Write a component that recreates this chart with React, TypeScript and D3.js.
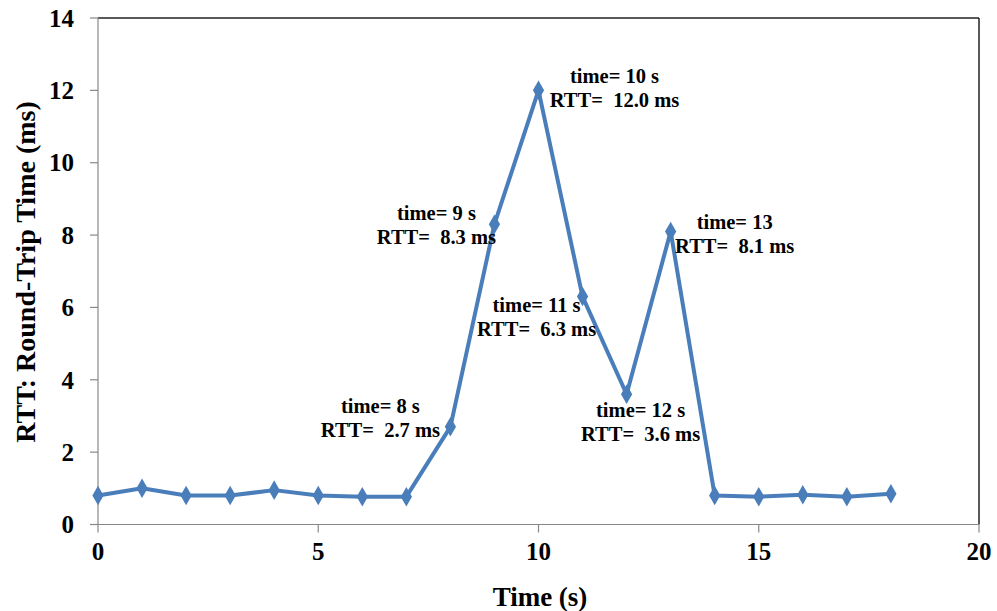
import React from "react";
import * as d3 from "d3";

// RTT samples, one per second
const times = [0, 1, 2, 3, 4, 5, 6, 7, 8, 9, 10, 11, 12, 13, 14, 15, 16, 17, 18];
const rtt = [0.8, 1.0, 0.8, 0.8, 0.95, 0.8, 0.77, 0.77, 2.7, 8.3, 12.0, 6.3, 3.6, 8.1, 0.8, 0.77, 0.82, 0.77, 0.85];

const xTicks = [0, 5, 10, 15, 20];
const yTicks = [0, 2, 4, 6, 8, 10, 12, 14];

// annotated points (index into times) and their label text
const labelIdx = [8, 9, 10, 11, 12, 13];
const labelLine1 = ["time= 8 s", "time= 9 s", "time= 10 s", "time= 11 s", "time= 12 s", "time= 13"];
const labelLine2 = ["RTT=  2.7 ms", "RTT=  8.3 ms", "RTT=  12.0 ms", "RTT=  6.3 ms", "RTT=  3.6 ms", "RTT=  8.1 ms"];
// label placement relative to the point (px)
const labelDx = [-70, -58, 76, -46, 14, 64];
const labelDy = [-14, -4, -7, 15, 23, -2];

const W = 997, H = 611;
const m = { left: 98, right: 979, top: 18, bottom: 524.5 };
const FONT = "'Liberation Serif', 'Times New Roman', serif";
const BLUE = "#4a7ebb";

export default function App() {
  const x = d3.scaleLinear().domain([0, 20]).range([m.left, m.right]);
  const y = d3.scaleLinear().domain([0, 14]).range([m.bottom, m.top]);

  const line = d3.line<number>()
    .x((d, i) => x(times[i]))
    .y(d => y(d));

  const diamond = d3.symbol().type(d3.symbolDiamond).size(110)();

  return (
    <svg width={W} height={H} style={{ position: "absolute", left: 0, top: 0, background: "#fff" }}>
      {/* frame */}
      <line x1={m.left} x2={m.right} y1={m.top} y2={m.top} stroke="#222" strokeWidth={1.5} />
      <line x1={m.right} x2={m.right} y1={m.top} y2={m.bottom} stroke="#222" strokeWidth={1.5} />
      {/* axes */}
      <line x1={m.left} x2={m.left} y1={m.top} y2={m.bottom} stroke="#888" strokeWidth={1.2} />
      <line x1={m.left} x2={m.right} y1={m.bottom} y2={m.bottom} stroke="#888" strokeWidth={1.2} />
      {yTicks.map(t => (
        <g key={"y" + t}>
          <line x1={m.left - 8} x2={m.left} y1={y(t)} y2={y(t)} stroke="#888" strokeWidth={1.2} />
          <text x={74} y={y(t)} dy="0.35em" textAnchor="end" fontFamily={FONT} fontWeight="bold" fontSize={25}>{t}</text>
        </g>
      ))}
      {xTicks.map(t => (
        <g key={"x" + t}>
          <line x1={x(t)} x2={x(t)} y1={m.bottom} y2={m.bottom + 8} stroke="#888" strokeWidth={1.2} />
          <text x={x(t)} y={560} textAnchor="middle" fontFamily={FONT} fontWeight="bold" fontSize={25}>{t}</text>
        </g>
      ))}
      <text x={540} y={606} textAnchor="middle" fontFamily={FONT} fontWeight="bold" fontSize={27}>Time (s)</text>
      <text transform="translate(35,272) rotate(-90)" textAnchor="middle" fontFamily={FONT} fontWeight="bold" fontSize={28}>RTT: Round-Trip Time (ms)</text>

      <path d={line(rtt) || ""} fill="none" stroke={BLUE} strokeWidth={4} strokeLinejoin="round" />
      {rtt.map((v, i) => (
        <path key={i} d={diamond || ""} transform={`translate(${x(times[i])},${y(v)})`} fill={BLUE} />
      ))}

      {labelIdx.map((k, j) => {
        const cx = x(times[k]) + labelDx[j];
        const cy = y(rtt[k]) + labelDy[j];
        return (
          <text key={"l" + k} textAnchor="middle" fontFamily={FONT} fontWeight="bold" fontSize={20.5} style={{ whiteSpace: "pre" }}>
            <tspan x={cx} y={cy}>{labelLine1[j]}</tspan>
            <tspan x={cx} y={cy + 24}>{labelLine2[j]}</tspan>
          </text>
        );
      })}
    </svg>
  );
}
